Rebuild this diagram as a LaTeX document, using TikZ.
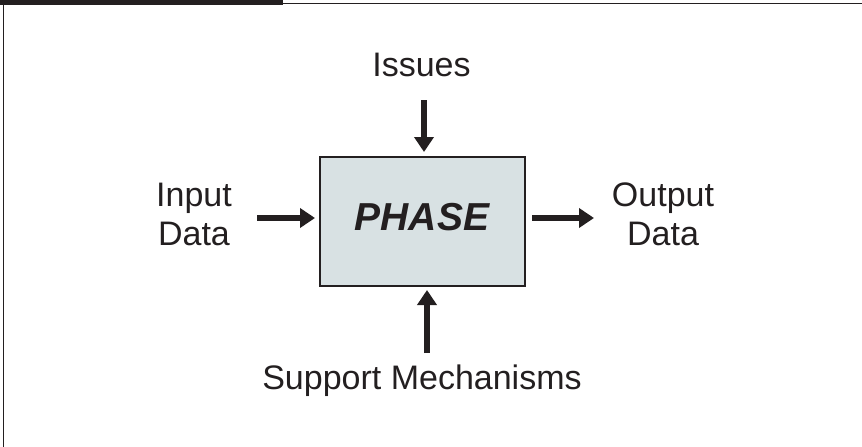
\documentclass[tikz,border=0pt]{standalone}
\usepackage{fontspec}
\setmainfont{Liberation Sans}
\usetikzlibrary{arrows.meta}
\definecolor{ink}{HTML}{231F20}
\definecolor{boxfill}{HTML}{D8E1E3}
\tikzset{
  lbl/.style={inner sep=0pt, anchor=north, align=center, text=ink, font=\fontsize{34}{39}\selectfont},
  phasebox/.style={draw=ink, line width=2pt, fill=boxfill, minimum width=205pt, minimum height=129pt, inner sep=0pt},
  arr/.style={draw=ink, line width=6.5pt, -{Triangle[length=15pt,width=19pt]}}
}
\begin{document}
\begin{tikzpicture}[x=1pt,y=-1pt]
\useasboundingbox (0,0) rectangle (862,447);
% frame
\fill[ink] (0,0) rectangle (283,4.5);
\draw[ink, line width=1.3pt] (283,3.7) -- (862,3.7);
\draw[ink, line width=1.3pt] (3.8,0) -- (3.8,447);
% box
\node[phasebox] (box) at (422.5,221.5) {};
\node[inner sep=0pt, anchor=north, text=ink, font=\fontsize{39}{44}\selectfont\bfseries\itshape] (phase) at (422,203) {PHASE};
% labels
\node[lbl] (issues) at (421.5,53) {Issues};
\node[lbl] (input) at (194,183) {Input\\Data};
\node[lbl] (output) at (663,183) {Output\\Data};
\node[lbl] (support) at (422,365) {Support Mechanisms};
% arrow ends
\coordinate (inS) at (257,218);
\coordinate (outT) at (594,218);
\coordinate (topS) at (424,100);
\coordinate (botS) at (427,353);
% arrows
\draw[arr, shorten >=4pt] (inS) -- (box.west |- inS);
\draw[arr] ([xshift=6pt]box.east |- outT) -- (outT);
\draw[arr, shorten >=4pt] (topS) -- (topS |- box.north);
\draw[arr, shorten >=3pt] (botS) -- (botS |- box.south);
\end{tikzpicture}
\end{document}
